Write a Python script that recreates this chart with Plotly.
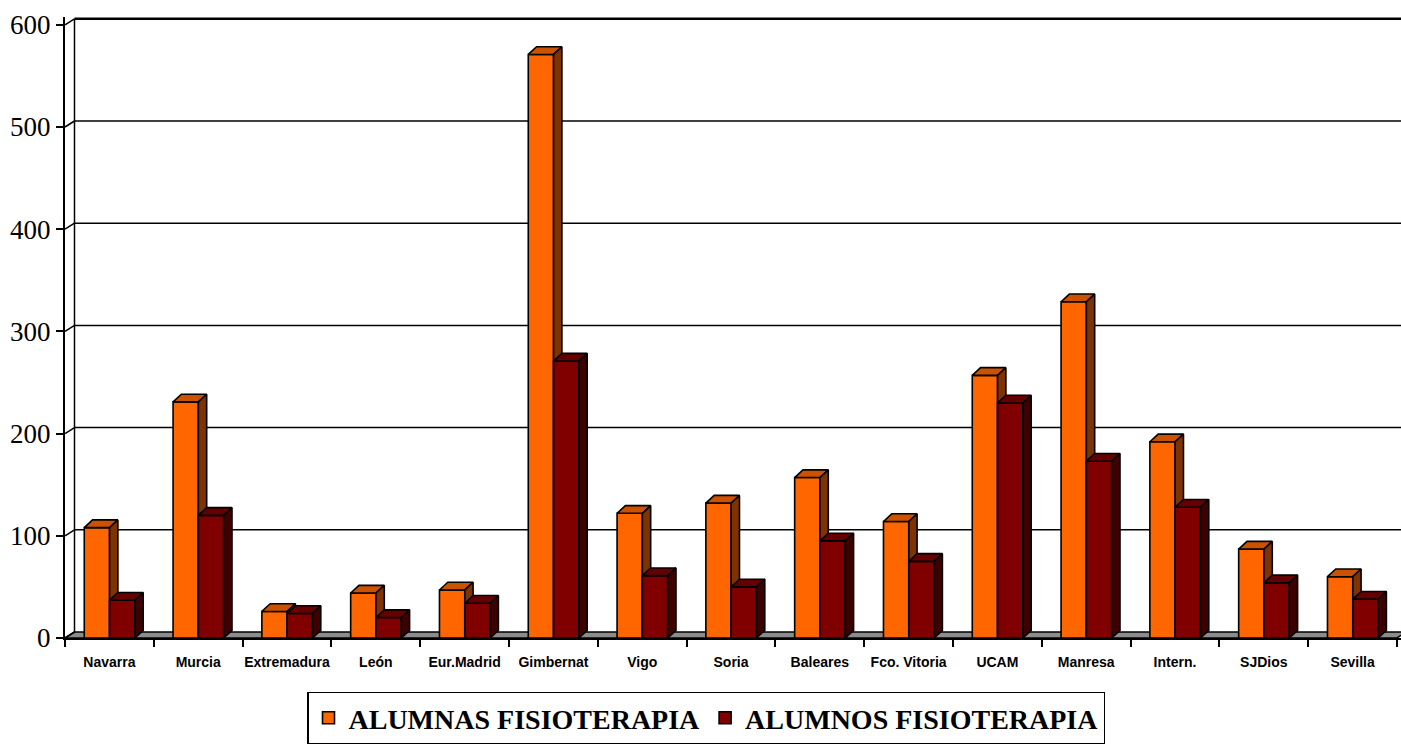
import plotly.graph_objects as go

# Alumnado de Fisioterapia por centro
centros = ["Navarra", "Murcia", "Extremadura", "León", "Eur.Madrid", "Gimbernat",
           "Vigo", "Soria", "Baleares", "Fco. Vitoria", "UCAM", "Manresa",
           "Intern.", "SJDios", "Sevilla"]
alumnas = [108, 231, 26, 44, 47, 571, 122, 132, 157, 114, 257, 329, 192, 87, 60]
alumnos = [37, 120, 24, 20, 34, 271, 61, 50, 95, 75, 230, 173, 128, 54, 38]
y_ticks = [0, 100, 200, 300, 400, 500, 600]

# page / plot geometry (pixels)
W, H = 1401, 744
M_L, M_R, M_T, M_B = 65, 0, 17, 106
plot_w = W - M_L - M_R
plot_h = H - M_T - M_B
px_per_cat = 88.8
px_per_unit = 1.022
x_max = plot_w / px_per_cat
y_max = plot_h / px_per_unit

def dx(px):
    return px / px_per_cat

def dy(px):
    return px / px_per_unit

wall_dx, wall_dy = dx(9.5), dy(6)      # depth of the back wall
bar_dx, bar_dy = dx(8.3), dy(7.7)      # depth of each column
bar_w = 0.285
first_off = 0.217
n = len(centros)


def faces(values, offset):
    """Top and side faces of the 3D columns, as polygons with gaps."""
    top_x, top_y, side_x, side_y = [], [], [], []
    for i, v in enumerate(values):
        x0 = i + offset
        x1 = x0 + bar_w
        top_x += [x0, x1, x1 + bar_dx, x0 + bar_dx, x0, None]
        top_y += [v, v, v + bar_dy, v + bar_dy, v, None]
        side_x += [x1, x1, x1 + bar_dx, x1 + bar_dx, x1, None]
        side_y += [0, v, v + bar_dy, bar_dy, 0, None]
    return top_x, top_y, side_x, side_y


series = [
    ("ALUMNAS FISIOTERAPIA", alumnas, first_off, "#FF6600", "#CC5200", "#7F3300", "x", "y"),
    ("ALUMNOS FISIOTERAPIA", alumnos, first_off + bar_w, "#800000", "#660000", "#3F0000", "x2", "y2"),
]

fig = go.Figure()
edge = dict(color="black", width=1.6)
for name, vals, off, c_front, c_top, c_side, xa, ya in series:
    xs = [i + off + bar_w / 2 for i in range(n)]
    fig.add_trace(go.Bar(
        x=xs, y=vals, width=bar_w, name=name, xaxis=xa, yaxis=ya,
        marker=dict(color=c_front, line=edge),
    ))
    tx, ty, sx, sy = faces(vals, off)
    fig.add_trace(go.Scatter(x=tx, y=ty, mode="lines", fill="toself", fillcolor=c_top,
                             line=edge, showlegend=False, hoverinfo="skip",
                             xaxis=xa, yaxis=ya))
    fig.add_trace(go.Scatter(x=sx, y=sy, mode="lines", fill="toself", fillcolor=c_side,
                             line=edge, showlegend=False, hoverinfo="skip",
                             xaxis=xa, yaxis=ya))

# floor, back wall and its gridlines
shapes = [dict(type="path", xref="x", yref="y", layer="below",
               path=f"M0,0 L{n},0 L{n + wall_dx},{wall_dy} L{wall_dx},{wall_dy} Z",
               fillcolor="#8C8C8C", line=dict(color="black", width=1.5))]
for v in y_ticks:
    shapes.append(dict(type="line", xref="x", yref="y", layer="below",
                       x0=0, y0=v, x1=wall_dx, y1=v + wall_dy,
                       line=dict(color="black", width=1.5)))
    if v > 0:
        shapes.append(dict(type="line", xref="x", yref="y", layer="below",
                           x0=wall_dx, y0=v + wall_dy, x1=x_max + 1, y1=v + wall_dy,
                           line=dict(color="black", width=2.5 if v == y_ticks[-1] else 1.5)))
shapes.append(dict(type="line", xref="x", yref="y", layer="below",
                   x0=wall_dx, y0=wall_dy, x1=wall_dx, y1=y_ticks[-1] + wall_dy,
                   line=dict(color="black", width=1.5)))

fig.update_layout(
    width=W, height=H,
    margin=dict(l=M_L, r=M_R, t=M_T, b=M_B, pad=0),
    paper_bgcolor="white", plot_bgcolor="white",
    barmode="overlay",
    shapes=shapes,
    xaxis=dict(
        range=[0, x_max], showgrid=False, zeroline=False,
        tickmode="array", tickvals=[i + 0.5 for i in range(n)], ticktext=centros,
        ticks="", ticklabelstandoff=10,
        tickfont=dict(family="Liberation Sans, Arial", size=14, color="black", weight="bold"),
        minor=dict(tickmode="array", tickvals=list(range(n + 1)), ticks="outside",
                   ticklen=7, tickwidth=1.5, tickcolor="black"),
        showline=True, linecolor="black", linewidth=2,
    ),
    yaxis=dict(
        range=[0, y_max], showgrid=False, zeroline=False,
        tickmode="array", tickvals=y_ticks,
        ticks="outside", ticklen=7, tickwidth=1.5, tickcolor="black",
        tickfont=dict(family="Liberation Serif, Times New Roman", size=27, color="black"),
        showline=True, linecolor="black", linewidth=2,
    ),
    xaxis2=dict(overlaying="x", range=[0, x_max], visible=False),
    yaxis2=dict(overlaying="y", range=[0, y_max], visible=False),
    legend=dict(
        orientation="h", xref="container", yref="container",
        x=706 / W, xanchor="center", y=(H - 718) / H, yanchor="middle",
        bordercolor="black", borderwidth=1.5, bgcolor="white",
        font=dict(family="Liberation Serif, Times New Roman", size=28, color="black", weight="bold"),
        itemclick=False,
    ),
    showlegend=True,
)

fig.write_html("out.html")
